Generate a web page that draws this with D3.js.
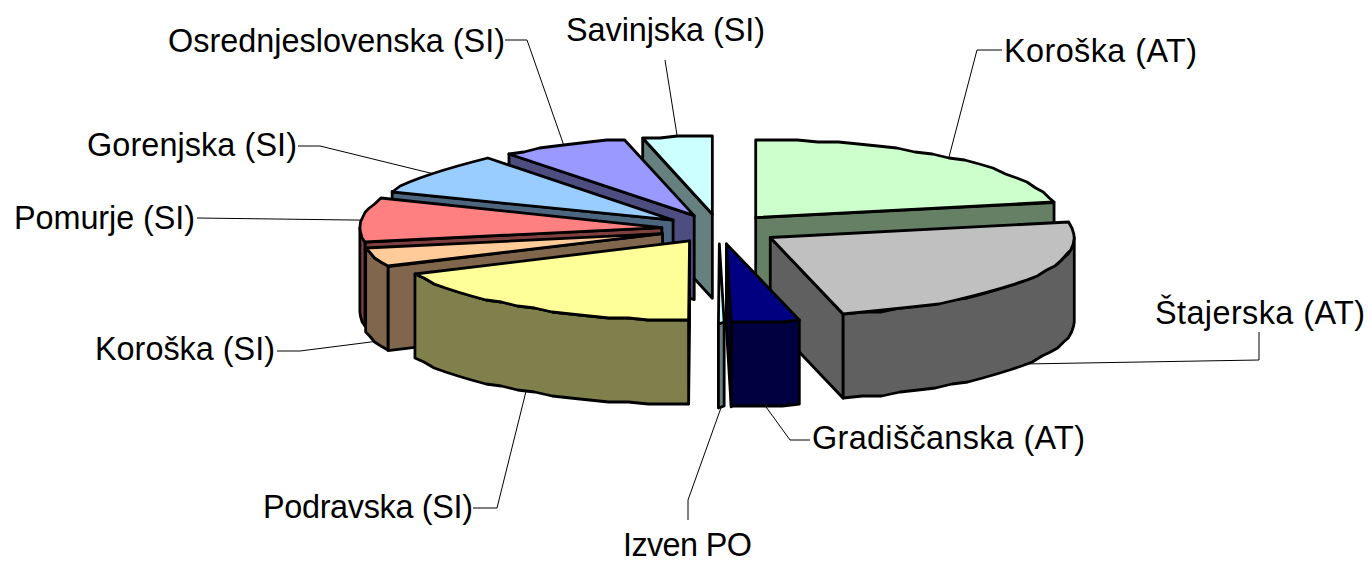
<!DOCTYPE html>
<html><head><meta charset="utf-8">
<script src="https://cdn.jsdelivr.net/npm/d3@7"></script>
<style>html,body{margin:0;padding:0;background:#fff}svg{display:block}text{font-family:"Liberation Sans",Arial,sans-serif;font-size:32.4px;fill:#000}</style>
</head><body><svg id="c" width="1370" height="562"></svg>
<script>
const categories = ["Koroška (AT)","Štajerska (AT)","Gradiščanska (AT)","Izven PO","Podravska (SI)","Koroška (SI)","Pomurje (SI)","Gorenjska (SI)","Osrednjeslovenska (SI)","Savinjska (SI)"];
const shares = [21.9,24.2,3.6,0.3,18.1,3.9,8.9,8.5,6.8,3.7];
const explosions = [0.19,0.2,0.19,0.19,0.18,0.196,0.19,0.19,0.19,0.19];
const colours = ["#CCFFCC","#C0C0C0","#000080","#CCFFFF","#FFFF99","#FFCC99","#FF8080","#99CCFF","#9999FF","#CCFFFF"];
// label layout: text position and width, leader elbows
const labelLayout = [
 {x:1004,w:193,y:51, elbows:[[977,50],[1002,50]]},
 {x:1155,w:210,y:313, elbows:[[1259,360],[1259,332]]},
 {x:812,w:273,y:438, elbows:[[790,440],[810,440]]},
 {x:623,w:129,y:545, elbows:[[688,500],[688,520]]},
 {x:263,w:210,y:507, elbows:[[497,508],[473,508]]},
 {x:95,w:180,y:349, elbows:[[300,351],[277,351]]},
 {x:14,w:181,y:218, elbows:[[197,218]]},
 {x:87,w:210,y:145, elbows:[[320,146],[298,146]]},
 {x:168,w:337,y:41, elbows:[[527,40],[505,40]]},
 {x:566,w:199,y:30, elbows:[[665,60]]}
];
const cx=719, cy=229, rxL=302, rxR=304, ryB=78, ryF=79, depth=84, drawOrder=[0,1,9,8,7,6,5,4,3,2];
const sx=d3.scaleLinear().domain([-1,0,1]).range([cx-rxL,cx,cx+rxR]);
const sy=d3.scaleLinear().domain([-1,0,1]).range([cy-ryB,cy,cy+ryF]);
const pie=d3.pie().sort(null).value(d=>d).startAngle(0).endAngle(2*Math.PI);
const arcs=pie(shares);
const svg=d3.select("#c");
const q=v=>Math.round(v/2)*2;
function geo(d,e){
  const mid=(d.startAngle+d.endAngle)/2;
  const ox=e*Math.sin(mid), oy=-e*Math.cos(mid);
  const apex=[sx(ox),sy(oy)];
  const pt=t=>[apex[0]+(sx(Math.sin(t))-cx),apex[1]+(sy(-Math.cos(t))-cy)];
  return {mid,pt,apex};
}
const line=d3.line();
const step=4*Math.PI/180;
function angles(a0,a1){const n=Math.max(1,Math.ceil((a1-a0)/step));return d3.range(n+1).map(i=>a0+(a1-a0)*i/n);}
const down=p=>[p[0],p[1]+depth];
const rough=p=>[p[0],q(p[1])];
drawOrder.forEach(i=>{
  const d=arcs[i], g=geo(d,explosions[i]), col=d3.rgb(colours[i]);
  const wall=d3.rgb(col.r/2,col.g/2,col.b/2);
  const G=svg.append("g").attr("stroke","#000").attr("stroke-width",2.8).attr("stroke-linejoin","round");
  const poly=(pts,f)=>G.append("path").attr("d",line(pts)+"Z").attr("fill",f);
  const a0=d.startAngle,a1=d.endAngle;
  if(Math.sin(a0)<-1e-6){const e=g.pt(a0);poly([g.apex,e,down(e),down(g.apex)],wall);}
  if(Math.sin(a1)>1e-6){const e=g.pt(a1);poly([g.apex,e,down(e),down(g.apex)],wall);}
  const f0=Math.max(a0,Math.PI/2),f1=Math.min(a1,1.5*Math.PI);
  if(f1>f0){const t=angles(f0,f1).map(g.pt).map(rough);poly(t.concat(t.slice().reverse().map(down)),wall);}
  poly([g.apex].concat(angles(a0,a1).map(g.pt).map(rough)),col.formatHex());
});
categories.forEach((c,i)=>{
  const d=arcs[i], g=geo(d,explosions[i]), L=labelLayout[i];
  let s=g.pt(g.mid);
  if(Math.cos(g.mid)<0) s=down(s);
  svg.append("path").attr("d",line([s].concat(L.elbows))).attr("fill","none").attr("stroke","#000").attr("stroke-width",1);
  svg.append("text").attr("x",L.x).attr("y",L.y).attr("dy","0.35em").attr("textLength",L.w).attr("lengthAdjust","spacing").text(c);
});
</script></body></html>
